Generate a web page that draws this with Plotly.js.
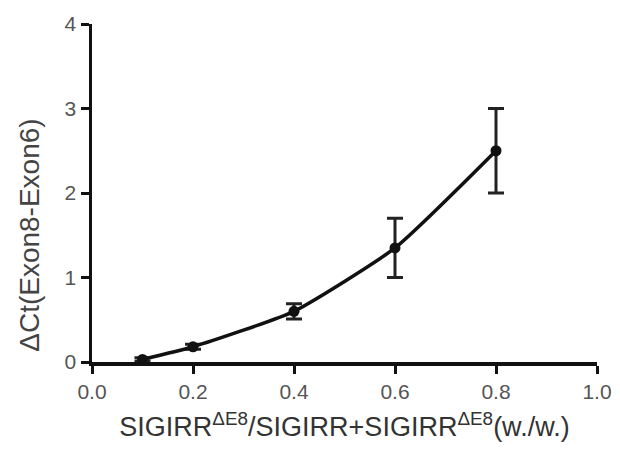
<!DOCTYPE html>
<html>
<head>
<meta charset="utf-8">
<script src="https://cdn.plot.ly/plotly-3.0.1.min.js"></script>
<style>html,body{margin:0;padding:0;background:#fff;}#chart{width:620px;height:451px;}</style>
</head>
<body>
<div id="chart"></div>
<script>
const ratio = [0.1, 0.2, 0.4, 0.6, 0.8];
const deltaCt = [0.03, 0.18, 0.6, 1.35, 2.5];
const sem = [0.02, 0.03, 0.09, 0.35, 0.5];
const xTickVals = [0, 0.2, 0.4, 0.6, 0.8, 1.0];
const xTickText = ['0.0', '0.2', '0.4', '0.6', '0.8', '1.0'];
const yTickVals = [0, 1, 2, 3, 4];
const xTitle = 'SIGIRR<sup>ΔE8</sup>/SIGIRR+SIGIRR<sup>ΔE8</sup>(w./w.)';
const yTitle = 'ΔCt(Exon8-Exon6)';

const trace = {
  x: ratio, y: deltaCt, type: 'scatter', mode: 'lines+markers',
  line: {color: '#111', width: 3.5, shape: 'spline', smoothing: 0.5},
  marker: {color: '#111', size: 11, symbol: 'circle'},
  error_y: {type: 'data', array: sem, visible: true, color: '#222', thickness: 3, width: 8},
  cliponaxis: false, showlegend: false
};

const fam = 'Liberation Sans, Arial, sans-serif';
const axisFont = {family: fam, size: 21, color: '#555'};
const layout = {
  width: 620, height: 451,
  margin: {l: 92, r: 23, t: 24, b: 89},
  paper_bgcolor: '#fff', plot_bgcolor: '#fff',
  xaxis: {
    range: [0, 1], tickvals: xTickVals, ticktext: xTickText,
    showline: true, linecolor: '#111', linewidth: 3.5, mirror: false,
    ticks: 'outside', ticklen: 8, tickwidth: 3, tickcolor: '#111',
    showgrid: false, zeroline: false, tickfont: axisFont,
    title: {text: xTitle, font: {family: fam, size: 27, color: '#333'}, standoff: 16}
  },
  yaxis: {
    range: [0, 4], tickvals: yTickVals,
    showline: true, linecolor: '#111', linewidth: 3.5,
    ticks: 'outside', ticklen: 8, tickwidth: 3, tickcolor: '#111',
    showgrid: false, zeroline: false, tickfont: axisFont
  },
  annotations: [{
    text: yTitle, textangle: -90, showarrow: false,
    xref: 'paper', yref: 'paper', x: -0.123, y: 0.376,
    xanchor: 'center', yanchor: 'middle',
    font: {family: fam, size: 28, color: '#444'}
  }]
};
Plotly.newPlot('chart', [trace], layout, {displayModeBar: false, staticPlot: true});
</script>
</body>
</html>
